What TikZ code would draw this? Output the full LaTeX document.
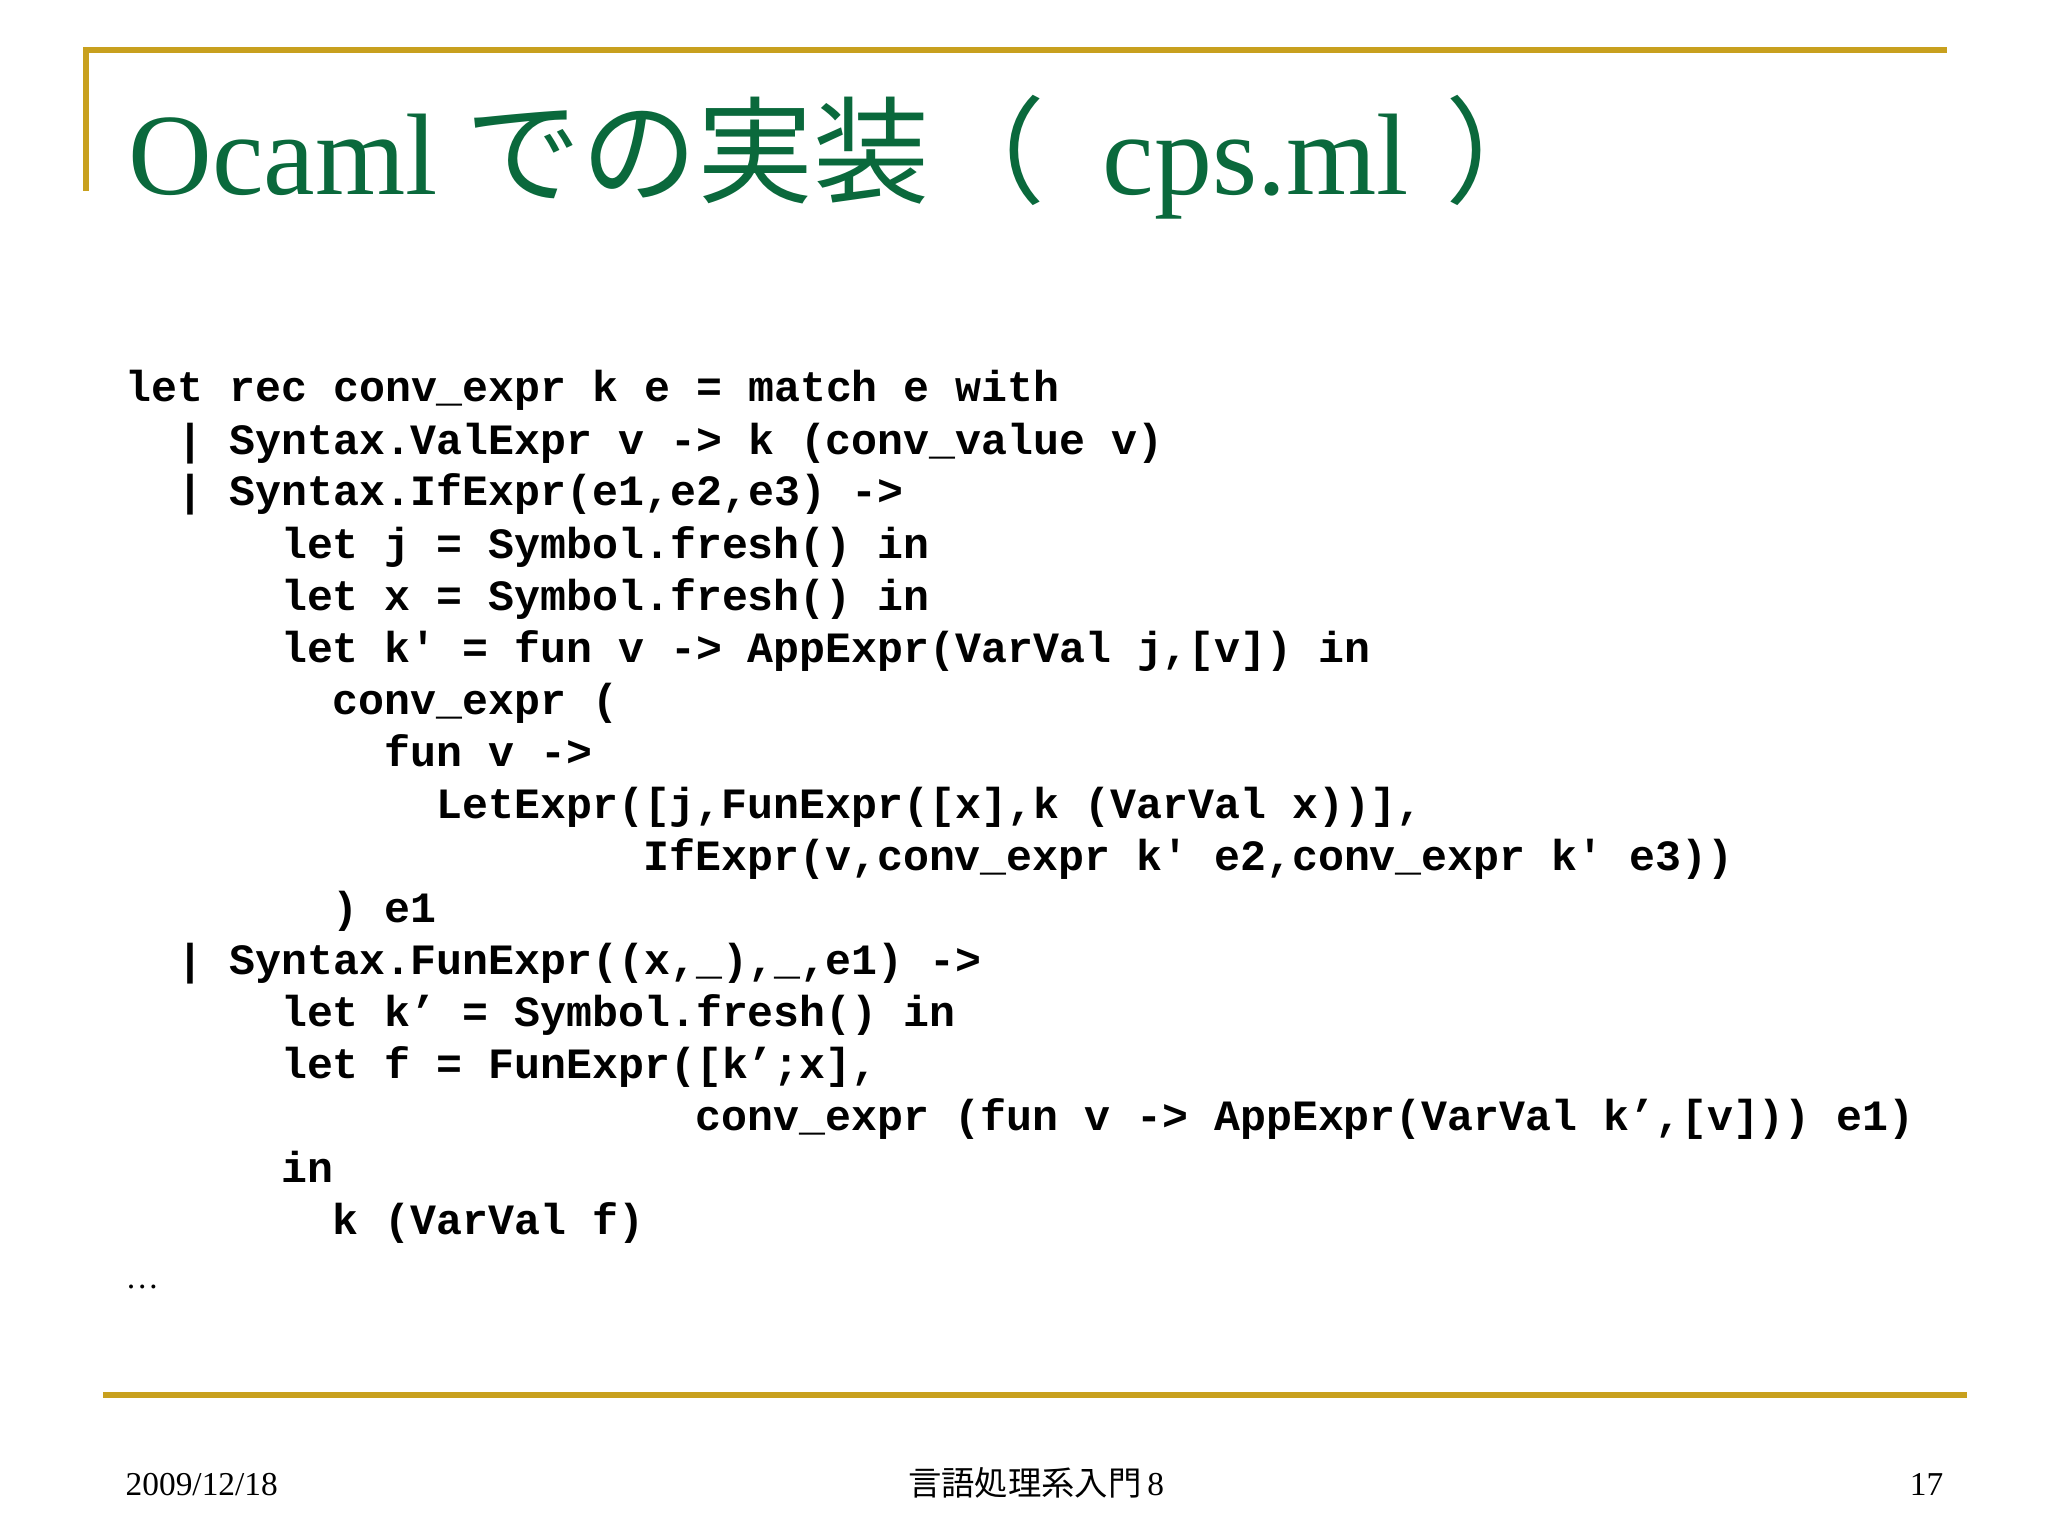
\documentclass[tikz,border=0pt]{standalone}
\usepackage{fontspec}
\setmainfont{Liberation Serif}
\setmonofont{Liberation Mono}
\newfontfamily\cjk{Noto Sans CJK JP}
\newfontfamily\cjkm{Noto Sans CJK JP Medium}
\begin{document}
\begin{tikzpicture}[x=1cm,y=-1cm]
\definecolor{gold}{RGB}{200,160,30}
\definecolor{tgreen}{RGB}{10,105,60}
\tikzset{codeline/.style={anchor=base west,inner sep=0pt,font=\fontsize{12.3pt}{14pt}\ttfamily\bfseries},
  title/.style={anchor=base west,inner sep=0pt,text=tgreen},
  foot/.style={inner sep=0pt,font=\fontsize{9.5pt}{11pt}\selectfont}}
\useasboundingbox[fill=white] (0,0) rectangle (20.48,15.36);
\draw[gold,line width=1.6pt] (0.86,1.91) -- (0.86,0.50) -- (19.47,0.50);
\draw[gold,line width=1.6pt] (1.03,13.95) -- (19.67,13.95);
\node[title,font=\fontsize{33pt}{36pt}\selectfont] (t1) at (1.28,1.95) {Ocaml};
\node[title,font=\fontsize{33pt}{36pt}\cjk] (t2) at (4.65,1.95) {での実装（};
\node[title,font=\fontsize{33pt}{36pt}\selectfont] (t3) at (11.02,1.95) {cps.ml};
\node[title,font=\fontsize{33pt}{36pt}\cjk] (t4) at (14.45,1.95) {）};
\def\cw{0.259}
\foreach \c/\r/\txt [count=\i] in {
0/0/{let rec conv\_expr k e = match e with},
2/1/{| Syntax.ValExpr v -> k (conv\_value v)},
2/2/{| Syntax.IfExpr(e1,e2,e3) ->},
6/3/{let j = Symbol.fresh() in},
6/4/{let x = Symbol.fresh() in},
6/5/{let k' = fun v -> AppExpr(VarVal j,[v]) in},
8/6/{conv\_expr (},
10/7/{fun v ->},
12/8/{LetExpr([j,FunExpr([x],k (VarVal x))],},
20/9/{IfExpr(v,conv\_expr k' e2,conv\_expr k' e3))},
8/10/{) e1},
2/11/{| Syntax.FunExpr((x,\_),\_,e1) ->},
6/12/{let k’ = Symbol.fresh() in},
6/13/{let f = FunExpr([k’;x],},
22/14/{conv\_expr (fun v -> AppExpr(VarVal k’,[v])) e1)},
6/15/{in},
8/16/{k (VarVal f)}}
{\node[codeline] (c\i) at (1.25+\c*\cw,4.02+\r*0.52) {\txt};}
\node[foot,anchor=base west] (dots) at (1.25,12.88) {…};
\node[foot,anchor=base west] (date) at (1.25,14.95) {2009/12/18};
\node[foot,anchor=base] (mid) at (10.36,14.95) {{\cjk 言語処理系入門}\,8};
\node[foot,anchor=base east] (pg) at (19.44,14.95) {17};
\end{tikzpicture}
\end{document}
